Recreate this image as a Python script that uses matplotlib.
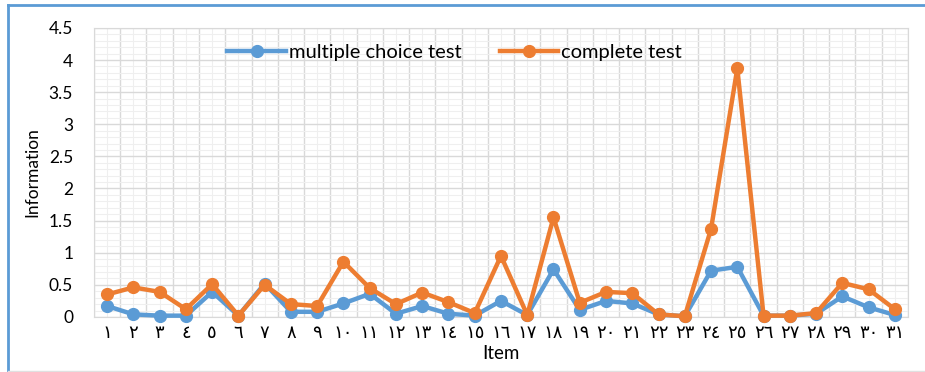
import matplotlib.pyplot as plt
from matplotlib.lines import Line2D
from matplotlib.ticker import MultipleLocator

items = list(range(1, 32))
labels = ['١', '٢', '٣', '٤', '٥', '٦', '٧', '٨', '٩', '١٠',
          '١١', '١٢', '١٣', '١٤', '١٥', '١٦', '١٧', '١٨', '١٩', '٢٠',
          '٢١', '٢٢', '٢٣', '٢٤', '٢٥', '٢٦', '٢٧', '٢٨', '٢٩', '٣٠', '٣١']
multiple_choice = [0.17, 0.04, 0.02, 0.02, 0.39, 0.02, 0.52, 0.08, 0.08, 0.21,
                   0.36, 0.05, 0.17, 0.05, 0.02, 0.25, 0.03, 0.74, 0.11, 0.25,
                   0.21, 0.04, 0.01, 0.72, 0.78, 0.02, 0.02, 0.05, 0.32, 0.15, 0.03]
complete = [0.35, 0.46, 0.39, 0.12, 0.51, 0.02, 0.50, 0.20, 0.17, 0.86,
            0.45, 0.20, 0.38, 0.23, 0.06, 0.95, 0.03, 1.55, 0.22, 0.39,
            0.37, 0.04, 0.01, 1.37, 3.87, 0.02, 0.02, 0.06, 0.53, 0.43, 0.12]

plt.rcParams['font.family'] = ['Lato', 'DejaVu Sans']
blue = '#5B9BD5'
orange = '#ED7D31'

fig = plt.figure(figsize=(9.25, 3.72), dpi=100)
ax = fig.add_axes([0.1016, 0.148, 0.88, 0.777])

ax.plot(items, multiple_choice, color=blue, lw=3.2, marker='o', ms=8.5,
        label='multiple choice test', clip_on=False, zorder=3)
ax.plot(items, complete, color=orange, lw=3.2, marker='o', ms=8.5,
        label='complete test', clip_on=False, zorder=4)

ax.set_xlim(0.5, 31.5)
ax.set_ylim(0, 4.5)
ax.set_xticks(items)
ax.set_xticklabels(labels, fontsize=13)
ax.set_xticks([i + 0.5 for i in range(0, 32)], minor=True)
ax.yaxis.set_major_locator(MultipleLocator(0.5))
ax.yaxis.set_minor_locator(MultipleLocator(0.1))
ax.set_yticklabels([f'{v:g}' for v in ax.get_yticks()], fontsize=12.5)

# gridlines: darker at category boundaries / every 0.5, faint in between
ax.grid(True, which='minor', axis='x', color='#d9d9d9', lw=1.0)
ax.grid(True, which='major', axis='x', color='#efefef', lw=0.8)
ax.grid(True, which='major', axis='y', color='#d9d9d9', lw=1.0)
ax.grid(True, which='minor', axis='y', color='#efefef', lw=0.8)
ax.set_axisbelow(True)
ax.tick_params(which='both', length=0)
ax.tick_params(axis='y', pad=15)
ax.tick_params(axis='x', pad=6)
for s in ax.spines.values():
    s.set_color('#d9d9d9')

ax.set_ylabel('Information', fontsize=12.5, labelpad=6)
ax.set_xlabel('Item', fontsize=13.5, labelpad=3)

ax.legend(loc='center', bbox_to_anchor=(0.443, 0.915), ncol=2, frameon=False,
          fontsize=14.5, handlelength=2.9, columnspacing=1.9, handletextpad=0.15)

# page frame around the chart
fig.add_artist(Line2D([0.0086, 0.0086], [0, 0.986], color=blue, lw=2))
fig.add_artist(Line2D([0.0086, 1.0], [0.986, 0.986], color=blue, lw=2))
fig.add_artist(Line2D([0.0086, 1.0], [0.003, 0.003], color='#e0e0e0', lw=1))

fig.savefig('out.png', dpi=100)
